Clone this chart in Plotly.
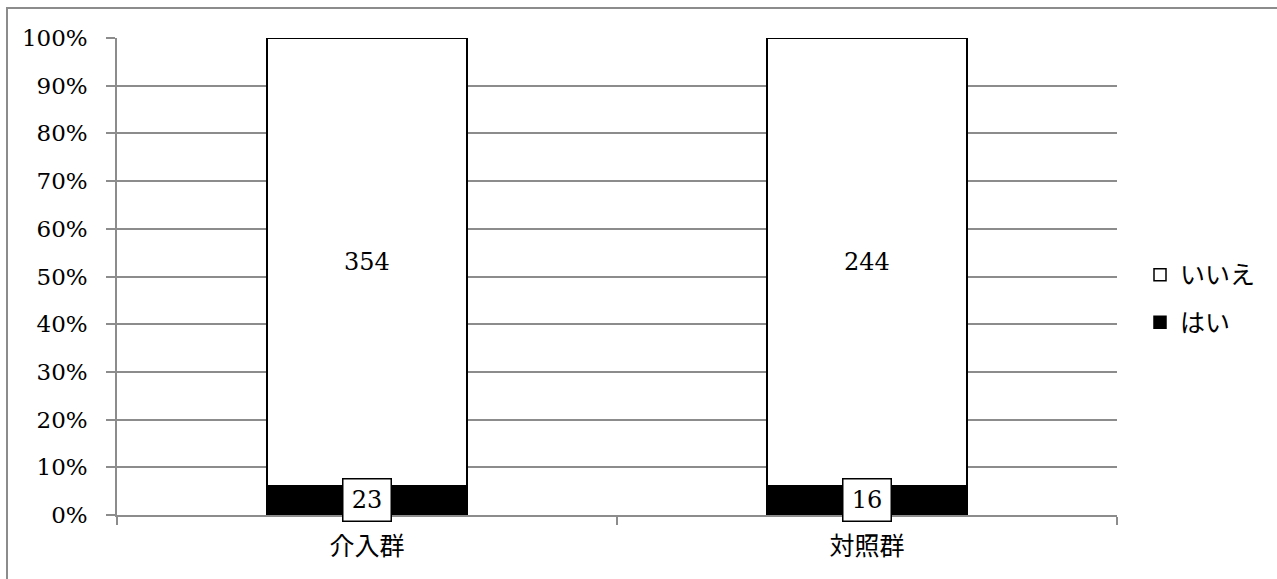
import plotly.graph_objects as go

# Survey responses per group
groups = ["介入群", "対照群"]
yes_counts = [23, 16]
no_counts = [354, 244]
yes_label = "はい"
no_label = "いいえ"
y_ticks = [0, 10, 20, 30, 40, 50, 60, 70, 80, 90, 100]

NUM_FONT = "DejaVu Serif"
JP_FONT = "Noto Sans CJK JP"
GRID = "#8c8c8c"

fig = go.Figure()
fig.add_trace(go.Bar(
    x=groups, y=yes_counts, name=yes_label, legendgroup="yes", legendrank=2,
    marker=dict(color="black", line=dict(color="black", width=1.5)),
    hoverinfo="skip",
))
fig.add_trace(go.Bar(
    x=groups, y=no_counts, name=no_label, legendgroup="no", legendrank=1,
    marker=dict(color="white", line=dict(color="black", width=1.5)),
    hoverinfo="skip",
))

# Count labels centred in each stacked segment
for g, yv, nv in zip(groups, yes_counts, no_counts):
    total = yv + nv
    yes_pct = 100 * yv / total
    fig.add_annotation(
        x=g, y=yes_pct / 2, text=str(yv), showarrow=False,
        font=dict(family=NUM_FONT, size=24, color="black"),
        bgcolor="white", bordercolor="black", borderwidth=1.5,
        width=45, height=39, borderpad=1,
    )
    fig.add_annotation(
        x=g, y=yes_pct + (100 - yes_pct) / 2, text=str(nv), showarrow=False,
        font=dict(family=NUM_FONT, size=24, color="black"),
    )

# Chart frame
fig.add_shape(
    type="rect", xref="paper", yref="paper",
    x0=-0.11, x1=1.3, y0=-0.3, y1=1.0629,
    line=dict(color=GRID, width=2), fillcolor="rgba(0,0,0,0)", layer="below",
)

fig.update_layout(
    width=1277, height=579,
    margin=dict(l=117, r=160, t=38, b=64),
    paper_bgcolor="white", plot_bgcolor="white",
    barmode="stack", barnorm="percent", bargap=0.6,
    showlegend=True,
    legend=dict(
        x=1.023, xanchor="left", y=0.454, yanchor="middle",
        traceorder="grouped", tracegroupgap=12,
        font=dict(family=JP_FONT, size=25, color="black"),
        bgcolor="rgba(0,0,0,0)",
    ),
    xaxis=dict(
        showline=True, linecolor=GRID, linewidth=1.5,
        ticks="outside", tickson="boundaries", ticklen=8, tickwidth=1.5, tickcolor=GRID,
        tickfont=dict(family=JP_FONT, size=25, color="black"),
        showgrid=False, ticklabelstandoff=8,
    ),
    yaxis=dict(
        range=[0, 100], tickvals=y_ticks, ticktext=[f"{v}%" for v in y_ticks],
        showline=True, linecolor=GRID, linewidth=1.5,
        ticks="outside", ticklen=9, tickwidth=1.5, tickcolor=GRID,
        showgrid=True, gridcolor=GRID, gridwidth=1.5, zeroline=False,
        tickfont=dict(family=NUM_FONT, size=23, color="black"),
        ticklabelstandoff=14,
    ),
)

fig.write_html("out.html")
